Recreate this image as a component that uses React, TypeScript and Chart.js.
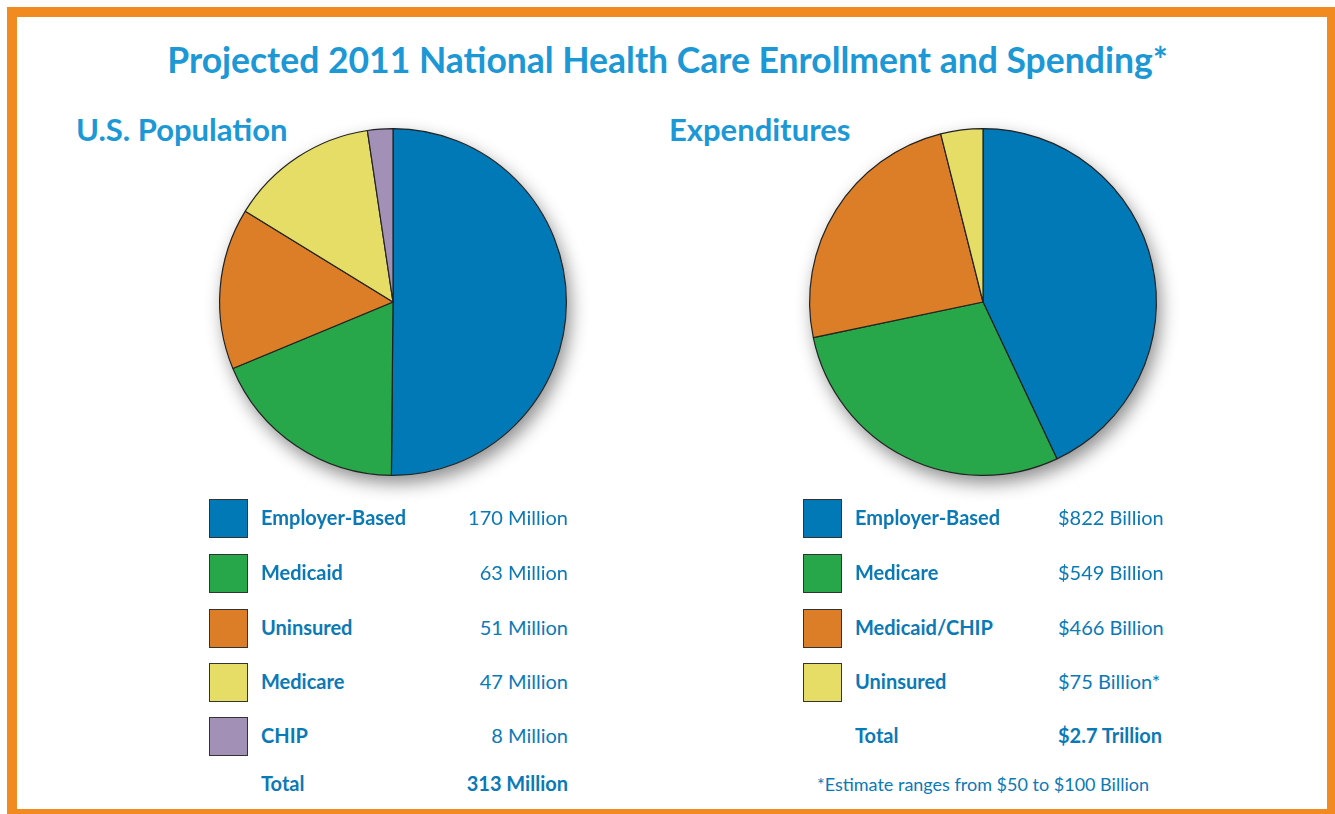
import React, { useEffect, useRef } from "react";
import { Chart, registerables } from "chart.js";

Chart.register(...registerables);

const popLabels = ["Employer-Based", "Medicaid", "Uninsured", "Medicare", "CHIP"];
const popValues = [170, 63, 51, 47, 8];
const popValueText = ["170 Million", "63 Million", "51 Million", "47 Million", "8 Million"];
const popColors = ["#0079b6", "#27a64a", "#db7e27", "#e5dd66", "#a290b7"];
const popTotal = "313 Million";

const expLabels = ["Employer-Based", "Medicare", "Medicaid/CHIP", "Uninsured"];
const expValues = [822, 549, 466, 75];
const expValueText = ["$822 Billion", "$549 Billion", "$466 Billion", "$75 Billion*"];
const expColors = ["#0079b6", "#27a64a", "#db7e27", "#e5dd66"];
const expTotal = "$2.7 Trillion";

const titleText = "Projected 2011 National Health Care Enrollment and Spending*";
const footnote = "*Estimate ranges from $50 to $100 Billion";

const FONT = "Lato, 'Open Sans', sans-serif";
const TITLE_BLUE = "#1b98d5";
const TEXT_BLUE = "#0b79b6";

const shadowPlugin = {
  id: "pieShadow",
  beforeDatasetsDraw(chart: any) {
    const meta = chart.getDatasetMeta(0);
    const arc = meta.data[0];
    if (!arc) return;
    const { x, y, outerRadius } = arc.getProps(["x", "y", "outerRadius"], true);
    const ctx = chart.ctx;
    ctx.save();
    ctx.shadowColor = "rgba(0,0,0,0.45)";
    ctx.shadowBlur = 18;
    ctx.shadowOffsetX = 4;
    ctx.shadowOffsetY = 8;
    ctx.fillStyle = "#ffffff";
    ctx.beginPath();
    ctx.arc(x, y, outerRadius, 0, Math.PI * 2);
    ctx.fill();
    ctx.restore();
  },
};

function Pie({ labels, values, colors, left, top }: any) {
  const ref = useRef<HTMLCanvasElement>(null);
  useEffect(() => {
    if (!ref.current) return;
    const chart = new Chart(ref.current, {
      type: "pie",
      data: {
        labels,
        datasets: [
          {
            data: values,
            backgroundColor: colors,
            borderColor: "#222222",
            borderWidth: 1.2,
          },
        ],
      },
      options: {
        animation: false,
        responsive: false,
        layout: { padding: 26 },
        plugins: { legend: { display: false }, tooltip: { enabled: false } },
      },
      plugins: [shadowPlugin],
    });
    return () => chart.destroy();
  }, []);
  return (
    <canvas
      ref={ref}
      width={400}
      height={400}
      style={{ position: "absolute", left, top, width: 400, height: 400 }}
    />
  );
}

const textBase: any = {
  position: "absolute",
  fontFamily: FONT,
  fontSize: 20,
  lineHeight: "26px",
  color: TEXT_BLUE,
  whiteSpace: "nowrap",
};

function Legend({ labels, texts, colors, x, valueX, alignRight }: any) {
  const rowsY = [518, 573, 628, 682, 736];
  const items = labels.map((l: string, i: number) => (
    <React.Fragment key={l}>
      <div
        style={{
          position: "absolute",
          left: x,
          top: rowsY[i] - 19,
          width: 37,
          height: 37,
          background: colors[i],
          border: "1.5px solid #333",
        }}
      />
      <div style={{ ...textBase, left: x + 52, top: rowsY[i] - 14, fontWeight: 700 }}>{l}</div>
      <div
        style={{
          ...textBase,
          ...(alignRight ? { right: 1335 - valueX } : { left: valueX }),
          top: rowsY[i] - 14,
        }}
      >
        {texts[i]}
      </div>
    </React.Fragment>
  ));
  return <>{items}</>;
}

export default function App() {
  return (
    <div
      style={{
        position: "absolute",
        left: 0,
        top: 0,
        width: 1335,
        height: 814,
        background: "#ffffff",
        overflow: "hidden",
      }}
    >
      <div
        style={{
          position: "absolute",
          left: 7,
          top: 7,
          width: 1310,
          height: 792,
          border: "10px solid #f18a21",
          boxSizing: "content-box",
        }}
      />
      <div
        style={{
          position: "absolute",
          left: 0,
          width: 1335,
          top: 37,
          textAlign: "center",
          fontFamily: FONT,
          fontWeight: 700,
          fontSize: 35.5,
          lineHeight: "46px",
          color: TITLE_BLUE,
          whiteSpace: "nowrap",
        }}
      >
        {titleText}
      </div>
      <div
        style={{
          position: "absolute",
          left: 76,
          top: 109,
          fontFamily: FONT,
          fontWeight: 700,
          fontSize: 31,
          lineHeight: "40px",
          color: TITLE_BLUE,
        }}
      >
        U.S. Population
      </div>
      <div
        style={{
          position: "absolute",
          left: 669,
          top: 109,
          fontFamily: FONT,
          fontWeight: 700,
          fontSize: 31,
          lineHeight: "40px",
          color: TITLE_BLUE,
        }}
      >
        Expenditures
      </div>
      <Pie labels={popLabels} values={popValues} colors={popColors} left={193} top={102} />
      <Pie labels={expLabels} values={expValues} colors={expColors} left={783} top={102} />
      <Legend
        labels={popLabels}
        texts={popValueText}
        colors={popColors}
        x={209}
        valueX={568}
        alignRight={true}
      />
      <Legend
        labels={expLabels}
        texts={expValueText}
        colors={expColors}
        x={803}
        valueX={1058}
        alignRight={false}
      />
      <div style={{ ...textBase, left: 261, top: 770, fontWeight: 700 }}>Total</div>
      <div style={{ ...textBase, right: 1335 - 568, top: 770, fontWeight: 700 }}>{popTotal}</div>
      <div style={{ ...textBase, left: 855, top: 722, fontWeight: 700 }}>Total</div>
      <div style={{ ...textBase, left: 1058, top: 722, fontWeight: 700 }}>{expTotal}</div>
      <div
        style={{
          ...textBase,
          left: 0,
          width: 1966,
          top: 772,
          textAlign: "center",
          fontSize: 18,
          lineHeight: "24px",
        }}
      >
        {footnote}
      </div>
    </div>
  );
}
